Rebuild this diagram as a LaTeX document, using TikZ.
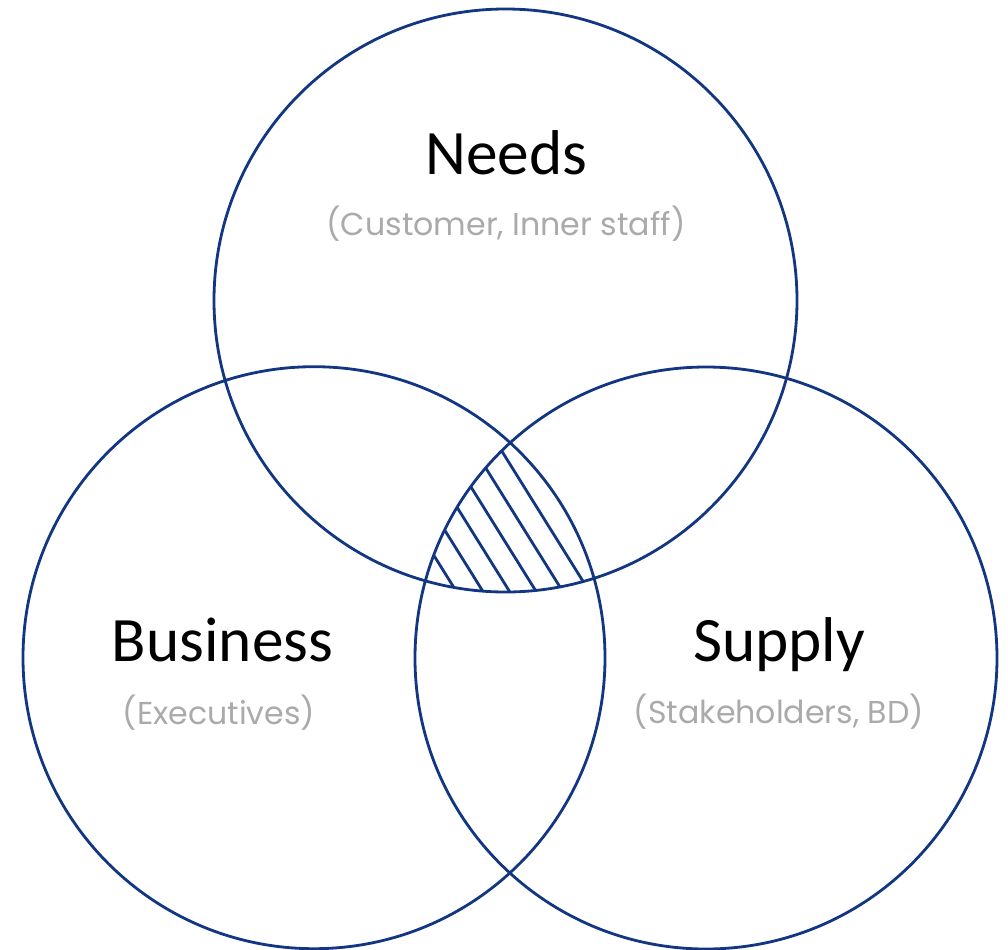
\documentclass[tikz,border=0pt]{standalone}
\usepackage{fontspec}
\setmainfont{Carlito}
\newfontfamily\popfont{Poppins}
\usetikzlibrary{positioning}
\definecolor{ringblue}{RGB}{18,54,130}
\definecolor{subgray}{RGB}{170,170,170}

\begin{document}
\begin{tikzpicture}[x=0.025cm, y=-0.025cm]
            \tikzstyle{ring} = [draw=ringblue, line width=2pt];
            \tikzstyle{title} = [anchor=base, inner sep=0pt, font=\fontsize{45}{54}\selectfont];
            \tikzstyle{sub} = [anchor=base, inner sep=0pt, text=subgray, font=\popfont\fontsize{22.5}{27}\selectfont];
            \useasboundingbox (0,0) rectangle (1008,949);

            \coordinate (cNeeds) at (505.5,300.5);
            \coordinate (cBusiness) at (314,657.7);
            \coordinate (cSupply) at (706,658);

            \draw [ring] (cNeeds) circle (291.5);
            \draw [ring] (cBusiness) circle (291);
            \draw [ring] (cSupply) circle (291);

            % hatching where all three meet
            \begin{scope}
                \clip (cNeeds) circle (291.5);
                \clip (cBusiness) circle (291);
                \clip (cSupply) circle (291);
                \foreach \k in {0,...,5}
                    \draw [ring] ({349.4+26.6*\k},420) -- ({481.9+26.6*\k},632.4);
            \end{scope}

            \node [title] (needsT) at (506.5,174) {Needs};
            \node [sub] (needsS) at (506,235) {(Customer, Inner staff)};

            \node [title] (businessT) at (222.5,661) {Business};
            \node [sub] (businessS) at (219,724) {(Executives)};

            \node [title] (supplyT) at (779,661) {Supply};
            \node [sub] (supplyS) at (779,723) {(Stakeholders, BD)};
        \end{tikzpicture}
\end{document}
